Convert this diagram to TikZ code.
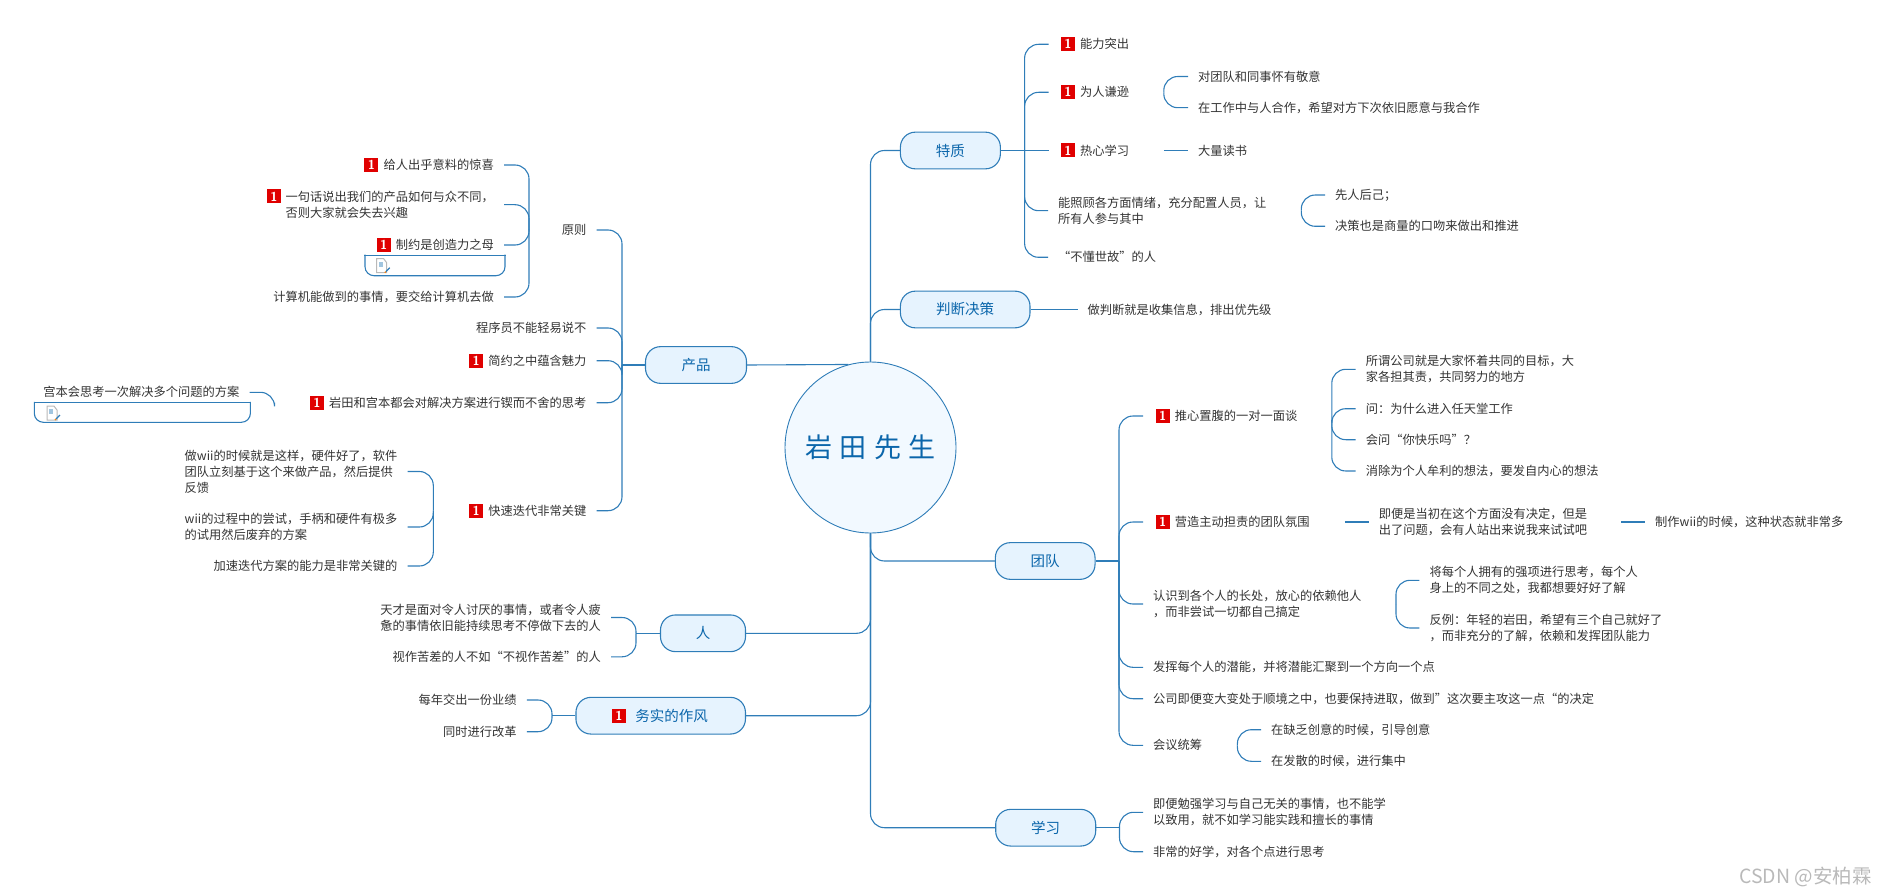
\documentclass[tikz,border=0pt]{standalone}
\usepackage{fontspec}
\setmainfont{Noto Sans CJK SC}
\newfontfamily\hubfont[LetterSpace=27]{Noto Sans CJK SC}
\usetikzlibrary{positioning}
\definecolor{mapblue}{HTML}{2F7DB8}
\definecolor{maptext}{HTML}{0B66AB}
\definecolor{mapfill}{HTML}{E6F3FE}
\definecolor{leaftext}{HTML}{333333}
\definecolor{flagred}{HTML}{E00000}
\tikzset{docicon/.pic={
	\draw[gray!55, fill=white, line width=1pt] (-5,-7) -- (2,-7) -- (5,-3) -- (5,7) -- (-5,7) -- cycle;
	\fill[mapblue!45] (-3,-4) rectangle (1,1);
	\draw[mapblue, line width=1.2pt] (4,6) -- (8,2);
	\draw[orange, line width=1.2pt] (3,7) -- (4,6);
}}
\begin{document}
\begin{tikzpicture}[x=1pt, y=-1pt,
	hub/.style={circle, draw=mapblue, fill=mapfill!50, line width=.9pt, minimum size=171pt, inner sep=0, text=maptext, font=\hubfont\fontsize{27}{30}\selectfont},
	topic/.style={rectangle, rounded corners=15pt, draw=mapblue, fill=mapfill, line width=1.1pt, minimum height=36.7pt, inner sep=0, text=maptext, font=\fontsize{14.5}{18}\selectfont},
	leaf/.style={inner sep=0, align=left, text=leaftext, font=\fontsize{12.25}{16}\selectfont},
	leafr/.style={leaf, anchor=west},
	leafl/.style={leaf, anchor=east},
	flag/.style={rectangle, fill=flagred, text=white, minimum width=14pt, minimum height=14pt, inner sep=0, outer xsep=2.5pt, font=\sffamily\bfseries\fontsize{13}{13}\selectfont},
	trunk/.style={draw=mapblue, line width=1.1pt, rounded corners=14pt},
	link/.style={trunk, shorten >=10pt},
	note/.style={draw=mapblue, line width=1.1pt, line cap=rect}]
	\useasboundingbox (0,0) rectangle (1888,896);

	\node[hub] (hub) at (870.5,447.5) {岩田先生};
	\node[topic, minimum width=100pt] (tezhi) at (950.4,150.5) {特质};
	\node[topic, minimum width=129.6pt] (panduan) at (965.2,309.5) {判断决策};
	\node[topic, minimum width=101pt] (chanpin) at (696,365) {产品};
	\node[topic, minimum width=99.7pt] (tuandui) at (1045.2,561) {团队};
	\node[topic, minimum width=85pt] (ren) at (703,633.3) {人};
	\node[topic, minimum width=169.5pt] (wushi) at (660.7,715.7) {\hspace{22pt}务实的作风};
	\node[flag] (wushiflag) at (619,715.7) {1};
	\node[topic, minimum width=100pt] (xuexi) at (1045.7,827.7) {学习};

	\draw[trunk] (hub.north) |- (tezhi.west);
	\draw[trunk] (hub.north) |- (panduan.west);
	\draw[trunk] (chanpin.east) -- (hub.105);
	\draw[trunk] (hub.south) |- (tuandui.west);
	\draw[trunk] (hub.south) |- (ren.east);
	\draw[trunk] (hub.south) |- (wushi.east);
	\draw[trunk] (hub.south) |- (xuexi.west);

	\coordinate (tezhifork) at (1024.6,150.5);
	\node[leafr] (nengli) at (1080,44.3) {能力突出};
	\node[flag, left=2.5pt of nengli] (nengliflag) {1};
	\node[leafr] (qianxun) at (1080,92.3) {为人谦逊};
	\node[flag, left=2.5pt of qianxun] (qianxunflag) {1};
	\node[leafr] (rexin) at (1080,150.5) {热心学习};
	\node[flag, left=2.5pt of rexin] (rexinflag) {1};
	\node[leafr] (zhaogu) at (1058,210.7) {能照顾各方面情绪，充分配置人员，让\\所有人参与其中};
	\node[leafr] (shigu) at (1058,257.3) {“不懂世故”的人};
	\draw[link] (tezhi.east) -- (rexinflag.west);
	\draw[link] (tezhifork) |- (nengliflag.west);
	\draw[link] (tezhifork) |- (qianxunflag.west);
	\draw[link] (tezhifork) |- (zhaogu.west);
	\draw[link] (tezhifork) |- (shigu.west);

	\coordinate (qianxunfork) at (1163.8,92.3);
	\node[leafr] (jingyi) at (1198,76.5) {对团队和同事怀有敬意};
	\node[leafr] (hezuo) at (1198,107.7) {在工作中与人合作，希望对方下次依旧愿意与我合作};
	\draw[link] (qianxunfork) |- (jingyi.west);
	\draw[link] (qianxunfork) |- (hezuo.west);

	\coordinate (rexinfork) at (1163.8,150.5);
	\node[leafr] (dushu) at (1198,150.5) {大量读书};
	\draw[link] (rexinfork) -- (dushu.west);

	\coordinate (zhaogufork) at (1301.3,210.7);
	\node[leafr] (xianren) at (1335,195) {先人后己；};
	\node[leafr] (juece) at (1335,226.3) {决策也是商量的口吻来做出和推进};
	\draw[link] (zhaogufork) |- (xianren.west);
	\draw[link] (zhaogufork) |- (juece.west);

	\node[leafr] (shouji) at (1087.5,309.5) {做判断就是收集信息，排出优先级};
	\draw[link] (panduan.east) -- (shouji.west);

	\coordinate (chanpinfork) at (622,365);
	\node[leafl] (yuanze) at (586.5,230) {原则};
	\node[leafl] (shuobu) at (586.5,328) {程序员不能轻易说不};
	\node[leafl] (jianyue) at (586.5,360.7) {简约之中蕴含魅力};
	\node[flag, left=2.5pt of jianyue] (jianyueflag) {1};
	\node[leafl] (sikao) at (586.5,402.7) {岩田和宫本都会对解决方案进行锲而不舍的思考};
	\node[flag, left=2.5pt of sikao] (sikaoflag) {1};
	\node[leafl] (diedai) at (586.5,510.7) {快速迭代非常关键};
	\node[flag, left=2.5pt of diedai] (diedaiflag) {1};
	\draw[trunk] (chanpin.west) -- (chanpinfork);
	\draw[link] (chanpinfork) |- (yuanze.east);
	\draw[link] (chanpinfork) |- (shuobu.east);
	\draw[link] (chanpinfork) |- (jianyue.east);
	\draw[link] (chanpinfork) |- (sikao.east);
	\draw[link] (chanpinfork) |- (diedai.east);

	\coordinate (yuanzefork) at (529,230);
	\node[leafl] (jingxi) at (494,165) {给人出乎意料的惊喜};
	\node[flag, left=2.5pt of jingxi] (jingxiflag) {1};
	\node[leafl] (yiju) at (494,204.7) {一句话说出我们的产品如何与众不同，\\否则大家就会失去兴趣};
	\node[flag] (yijuflag) at (274,196.5) {1};
	\node[leafl] (zhiyue) at (494,245) {制约是创造力之母};
	\node[flag, left=2.5pt of zhiyue] (zhiyueflag) {1};
	\node[leafl] (jisuanji) at (494,297) {计算机能做到的事情，要交给计算机去做};
	\draw[link] (yuanzefork) |- (jingxi.east);
	\draw[link] (yuanzefork) |- (yiju.east);
	\draw[link] (yuanzefork) |- (zhiyue.east);
	\draw[link] (yuanzefork) |- (jisuanji.east);
	\draw[note] (365,255.3) -- (505,255.3);
	\draw[note, rounded corners=9pt] (505,255.3) -- (505,275.7) -- (365,275.7) -- (365,255.3);
	\pic at (381.7,265.7) {docicon};

	\coordinate (sikaofork) at (274.5,402.7);
	\node[leafl] (fangan) at (239.6,392.3) {宫本会思考一次解决多个问题的方案};
	\draw[link] (sikaofork) |- (fangan.east);
	\draw[note] (34.3,402.3) -- (250.4,402.3);
	\draw[note, rounded corners=9pt] (250.4,402.3) -- (250.4,422.3) -- (34.3,422.3) -- (34.3,402.3);
	\pic at (52,413) {docicon};

	\coordinate (diedaifork) at (433.3,510.7);
	\node[leafl] (wiifankui) at (397.5,471.5) {做wii的时候就是这样，硬件好了，软件\\团队立刻基于这个来做产品，然后提供\\反馈};
	\node[leafl] (shouying) at (397.5,527) {wii的过程中的尝试，手柄和硬件有极多\\的试用然后废弃的方案};
	\node[leafl] (jiasu) at (397.5,566) {加速迭代方案的能力是非常关键的};
	\draw[link] (diedaifork) |- (wiifankui.east);
	\draw[link] (diedaifork) |- (shouying.east);
	\draw[link] (diedaifork) |- (jiasu.east);

	\coordinate (renfork) at (636,633.3);
	\node[leafl] (tiancai) at (601,617.5) {天才是面对令人讨厌的事情，或者令人疲\\惫的事情依旧能持续思考不停做下去的人};
	\node[leafl] (kucha) at (601,656.8) {视作苦差的人不如“不视作苦差”的人};
	\draw[trunk] (ren.west) -- (renfork);
	\draw[link] (renfork) |- (tiancai.east);
	\draw[link] (renfork) |- (kucha.east);

	\coordinate (wushifork) at (552,715.7);
	\node[leafl] (yeji) at (516.8,700) {每年交出一份业绩};
	\node[leafl] (gaige) at (516.8,731.7) {同时进行改革};
	\draw[trunk] (wushi.west) -- (wushifork);
	\draw[link] (wushifork) |- (yeji.east);
	\draw[link] (wushifork) |- (gaige.east);

	\coordinate (tuanduifork) at (1119,561);
	\node[leafr] (miantan) at (1174.6,416) {推心置腹的一对一面谈};
	\node[flag, left=2.5pt of miantan] (miantanflag) {1};
	\node[leafr] (fenwei) at (1174.6,522) {营造主动担责的团队氛围};
	\node[flag, left=2.5pt of fenwei] (fenweiflag) {1};
	\node[leafr] (changchu) at (1153,604) {认识到各个人的长处，放心的依赖他人\\，而非尝试一切都自己搞定};
	\node[leafr] (qianneng) at (1153,667.3) {发挥每个人的潜能，并将潜能汇聚到一个方向一个点};
	\node[leafr] (shunjing) at (1153,698.7) {公司即便变大变处于顺境之中，也要保持进取，做到”这次要主攻这一点“的决定};
	\node[leafr] (huiyi) at (1153,745.3) {会议统筹};
	\draw[trunk] (tuandui.east) -- (tuanduifork);
	\draw[link] (tuanduifork) |- (miantanflag.west);
	\draw[link] (tuanduifork) |- (fenweiflag.west);
	\draw[link] (tuanduifork) |- (changchu.west);
	\draw[link] (tuanduifork) |- (qianneng.west);
	\draw[link] (tuanduifork) |- (shunjing.west);
	\draw[link] (tuanduifork) |- (huiyi.west);

	\coordinate (miantanfork) at (1331.8,420);
	\node[leafr] (gongsi) at (1365.7,369.3) {所谓公司就是大家怀着共同的目标，大\\家各担其责，共同努力的地方};
	\node[leafr] (wen) at (1365.7,408.7) {问：为什么进入任天堂工作};
	\node[leafr] (kuaile) at (1365.7,439.7) {会问“你快乐吗”？};
	\node[leafr] (xiaochu) at (1365.7,471) {消除为个人牟利的想法，要发自内心的想法};
	\draw[link] (miantanfork) |- (gongsi.west);
	\draw[link] (miantanfork) |- (wen.west);
	\draw[link] (miantanfork) |- (kuaile.west);
	\draw[link] (miantanfork) |- (xiaochu.west);

	\coordinate (fenweifork) at (1344.8,522);
	\coordinate (shishifork) at (1621,522);
	\node[leafr] (shishi) at (1378.6,522) {即便是当初在这个方面没有决定，但是\\出了问题，会有人站出来说我来试试吧};
	\node[leafr] (zhizuo) at (1655,522) {制作wii的时候，这种状态就非常多};
	\draw[link] (fenweifork) -- (shishi.west);
	\draw[link] (shishifork) -- (zhizuo.west);

	\coordinate (changchufork) at (1396,604);
	\node[leafr] (qiangxiang) at (1429.4,580.3) {将每个人拥有的强项进行思考，每个人\\身上的不同之处，我都想要好好了解};
	\node[leafr] (fanli) at (1429.4,628) {反例：年轻的岩田，希望有三个自己就好了\\，而非充分的了解，依赖和发挥团队能力};
	\draw[link] (changchufork) |- (qiangxiang.west);
	\draw[link] (changchufork) |- (fanli.west);

	\coordinate (huiyifork) at (1237.4,745.3);
	\node[leafr] (yindao) at (1271,729.7) {在缺乏创意的时候，引导创意};
	\node[leafr] (jizhong) at (1271,761.3) {在发散的时候，进行集中};
	\draw[link] (huiyifork) |- (yindao.west);
	\draw[link] (huiyifork) |- (jizhong.west);

	\coordinate (xuexifork) at (1119.5,827.7);
	\node[leafr] (mianqiang) at (1153,812.3) {即便勉强学习与自己无关的事情，也不能学\\以致用，就不如学习能实践和擅长的事情};
	\node[leafr] (haoxue) at (1153,851.7) {非常的好学，对各个点进行思考};
	\draw[trunk] (xuexi.east) -- (xuexifork);
	\draw[link] (xuexifork) |- (mianqiang.west);
	\draw[link] (xuexifork) |- (haoxue.west);

	\node[anchor=east, inner sep=0, text=gray!55, font=\fontsize{19.5}{22}\selectfont] (mark) at (1872,877) {CSDN @安柏霖};
\end{tikzpicture}
\end{document}
